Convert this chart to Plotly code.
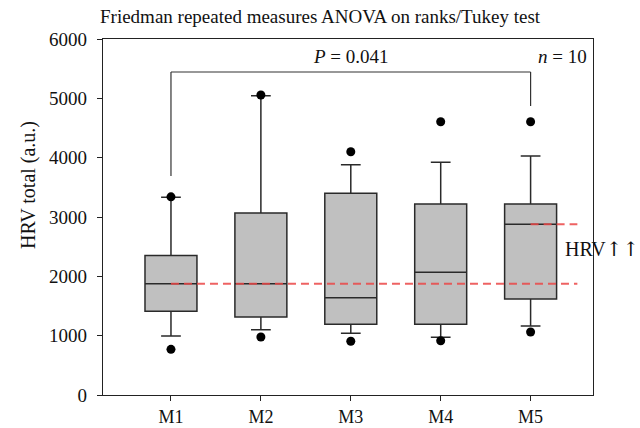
import plotly.graph_objects as go

categories = ["M1", "M2", "M3", "M4", "M5"]
q1 = [1410, 1315, 1191, 1191, 1618]
median = [1876, 1875, 1640, 2068, 2877]
q3 = [2350, 3067, 3400, 3219, 3219]
lower_whisker = [994, 1101, 1040, 972, 1163]
upper_whisker = [3332, 5045, 3882, 3921, 4028]
outliers_low = [770, 977, 905, 915, 1062]
outliers_high = [3340, 5056, 4100, 4606, 4606]

ref_line_low = 1876   # M1 median reference
ref_line_high = 2877  # M5 median reference
bracket_bottom_left = 3690
bracket_top = 5444
bracket_bottom_right = 4870

pos = list(range(len(categories)))
FONT = "Liberation Serif"

W, H = 640, 428
ML, MR, MT, MB = 103, 47, 39, 33
PW, PH = W - ML - MR, H - MT - MB


def px_to_paper(x, y):
    return (x - ML) / PW, (H - MB - y) / PH


fig = go.Figure()
fig.add_trace(go.Box(
    x=pos, q1=q1, median=median, q3=q3,
    lowerfence=lower_whisker, upperfence=upper_whisker,
    boxpoints=False, width=0.578, whiskerwidth=0.38,
    fillcolor="#c0c0c0", line=dict(color="#2a2a2a", width=1.5),
    showlegend=False, hoverinfo="skip",
))
fig.add_trace(go.Scatter(
    x=pos + pos, y=outliers_low + outliers_high, mode="markers",
    marker=dict(color="black", size=9), showlegend=False, cliponaxis=False,
    hoverinfo="skip",
))

dash = "8px,5px"
fig.add_shape(type="line", x0=pos[0], x1=4.52, y0=ref_line_low, y1=ref_line_low,
              line=dict(color="rgba(235,70,70,0.85)", width=2, dash=dash), layer="above")
fig.add_shape(type="line", x0=pos[4], x1=4.52, y0=ref_line_high, y1=ref_line_high,
              line=dict(color="rgba(235,70,70,0.85)", width=2, dash=dash), layer="above")

# significance bracket
bl = dict(color="#333333", width=1.2)
fig.add_shape(type="line", x0=pos[0], x1=pos[0], y0=bracket_bottom_left, y1=bracket_top, line=bl)
fig.add_shape(type="line", x0=pos[0], x1=pos[4], y0=bracket_top, y1=bracket_top, line=bl)
fig.add_shape(type="line", x0=pos[4], x1=pos[4], y0=bracket_bottom_right, y1=bracket_top, line=bl)

fig.add_annotation(x=2, y=5713, text="<i>P</i> = 0.041", showarrow=False,
                   font=dict(family=FONT, size=19, color="#111"), xanchor="center", yanchor="middle")
fig.add_annotation(x=4.35, y=5713, text="<i>n</i> = 10", showarrow=False,
                   font=dict(family=FONT, size=19, color="#111"), xanchor="center", yanchor="middle")
fig.add_annotation(x=4.357, y=2466,
                   text="HRV<span style=\"font-family:'DejaVu Serif'\">↑↑</span>",
                   showarrow=False,
                   font=dict(family=FONT, size=20, color="#111"), xanchor="left", yanchor="middle")

tx, ty = px_to_paper(320, 17)
fig.add_annotation(xref="paper", yref="paper", x=tx, y=ty,
                   text="Friedman repeated measures ANOVA on ranks/Tukey test",
                   showarrow=False, xanchor="center", yanchor="middle",
                   font=dict(family=FONT, size=19, color="#111"))
yx, yy = px_to_paper(28, 185)
fig.add_annotation(xref="paper", yref="paper", x=yx, y=yy,
                   text="HRV total (a.u.)", textangle=-90, showarrow=False,
                   xanchor="center", yanchor="middle",
                   font=dict(family=FONT, size=20, color="#111"))

axis_common = dict(showline=True, mirror=True, linecolor="#222", linewidth=1.2,
                   ticks="outside", ticklen=5, tickcolor="#222", showgrid=False,
                   zeroline=False, automargin=False)
fig.update_xaxes(range=[-0.756, 4.694], tickmode="array", tickvals=pos,
                 ticktext=categories, ticklabelstandoff=0,
                 tickfont=dict(family=FONT, size=18, color="#111"), **axis_common)
fig.update_yaxes(range=[0, 6000], dtick=1000, ticklabelstandoff=6,
                 tickfont=dict(family=FONT, size=19, color="#111"), **axis_common)

fig.update_layout(width=W, height=H, margin=dict(l=ML, r=MR, t=MT, b=MB, autoexpand=False),
                  plot_bgcolor="white", paper_bgcolor="white",
                  font=dict(family=FONT, color="#111"))
fig.write_html("out.html", config={"displayModeBar": False},
               post_script="document.body.style.margin='0';")
